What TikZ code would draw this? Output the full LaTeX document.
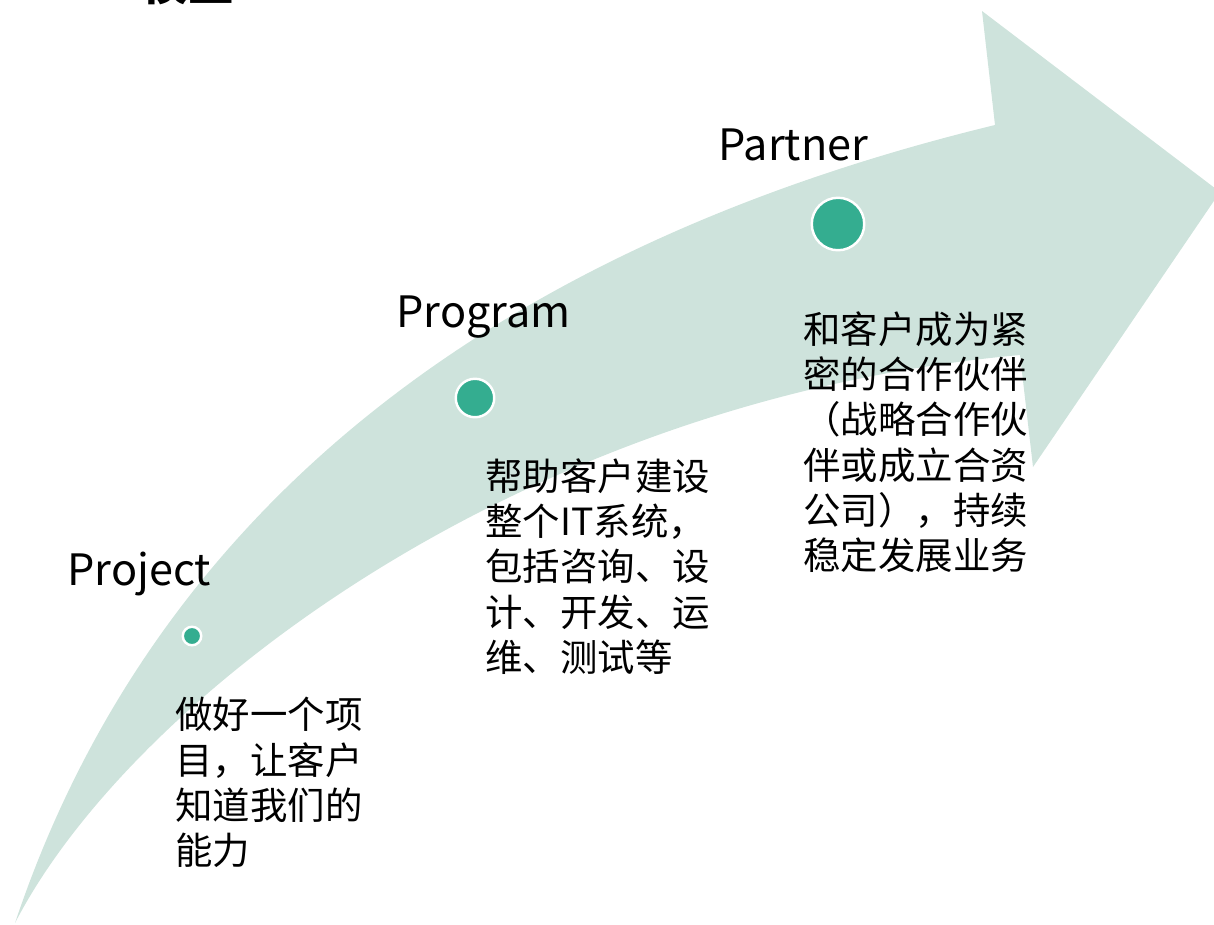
\documentclass[tikz,border=0pt]{standalone}
\usepackage{fontspec}
\setmainfont{Noto Sans CJK SC}
\usepackage{tikz}
\usetikzlibrary{positioning}

\definecolor{bandgreen}{RGB}{206,227,220}
\definecolor{dotgreen}{RGB}{52,173,144}

\begin{document}
\begin{tikzpicture}[x=0.02cm,y=-0.02cm,
    stage/.style={anchor=base west,inner sep=0pt,font=\fontsize{24.6}{29}\selectfont},
    note/.style={anchor=north west,inner sep=0pt,align=left,font=\fontsize{21.3}{25.8}\selectfont},
    dot/.style={circle,fill=dotgreen,draw=white,line width=1.4pt,inner sep=0pt}]
    \useasboundingbox (0,0) rectangle (1214,924);
    % curved band with arrow head
    \fill[bandgreen] (15,923) .. controls (150,520) and (480,250) .. (995,125)
      -- (982,11) -- (1220,192) -- (1033,467) -- (1020,355)
      .. controls (520,400) and (130,700) .. (15,923) -- cycle;
    % title, cut off at the top
    \node[anchor=base,inner sep=0pt,font=\fontsize{26}{30}\selectfont\bfseries] (title) at (188,0) {模型};
    % stages
    \foreach \x/\y/\d/\n in {192/636/0.37/proj,475/398/0.77/prog,838/224/1.05/part}
      \node[dot,minimum size=\d cm] (\n) at (\x,\y) {};
    \node[stage] (projname) at (67,585) {Project};
    \node[stage] (progname) at (396,327) {Program};
    \node[stage] (partname) at (718,160) {Partner};
    \node[note] (projtext) at (175,697) {做好一个项\\目，让客户\\知道我们的\\能力};
    \node[note] (progtext) at (485,458) {帮助客户建设\\整个IT系统，\\包括咨询、设\\计、开发、运\\维、测试等};
    \node[note] (parttext) at (803,311) {和客户成为紧\\密的合作伙伴\\（战略合作伙\\伴或成立合资\\公司），持续\\稳定发展业务};
\end{tikzpicture}
\end{document}
